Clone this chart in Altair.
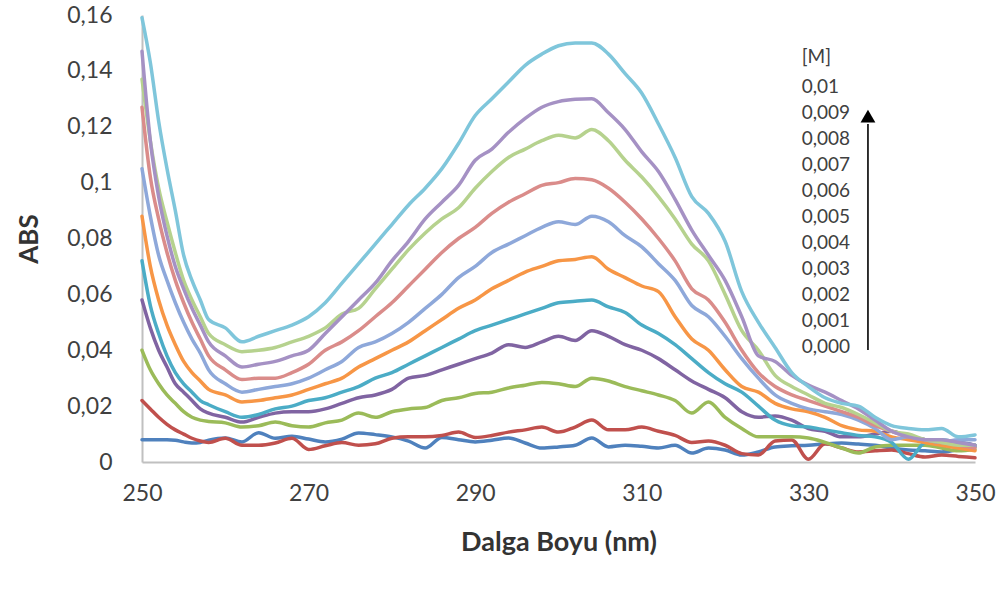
import altair as alt
import pandas as pd

# wavelength grid (nm)
nm = [250, 251, 252, 253, 254, 255, 256, 257, 258,
      260, 262, 264, 266, 268, 270, 272, 274, 276, 278,
      280, 282, 284, 286, 288, 290, 292, 294, 296, 298,
      300, 302, 304, 306, 308, 310, 312, 314, 316, 318,
      320, 322, 324, 326, 328, 330, 332, 334, 336, 338,
      340, 342, 344, 346, 348, 350]

abs_000 = [0.008, 0.008, 0.008, 0.008, 0.0078, 0.0072, 0.0068, 0.007, 0.0078,
           0.0086, 0.0072, 0.0105, 0.0085, 0.0092, 0.0082, 0.0072, 0.0082, 0.0104, 0.0098,
           0.009, 0.0075, 0.005, 0.0088, 0.008, 0.0072, 0.0078, 0.0086, 0.0068, 0.005,
           0.0054, 0.006, 0.0086, 0.0054, 0.006, 0.0056, 0.005, 0.006, 0.0032, 0.005,
           0.0043, 0.0025, 0.0036, 0.0054, 0.0058, 0.006, 0.0065, 0.0068, 0.0064, 0.006,
           0.005, 0.0043, 0.004, 0.0036, 0.0045, 0.0054]
abs_001 = [0.022, 0.019, 0.016, 0.0135, 0.0115, 0.010, 0.0085, 0.0075, 0.007,
           0.0085, 0.006, 0.006, 0.0068, 0.0085, 0.0045, 0.0058, 0.007, 0.006, 0.0065,
           0.0085, 0.009, 0.009, 0.0095, 0.0107, 0.0088, 0.0095, 0.0107, 0.0115, 0.0125,
           0.0107, 0.0125, 0.015, 0.0115, 0.0115, 0.0125, 0.011, 0.0095, 0.007, 0.0075,
           0.006, 0.003, 0.0025, 0.0075, 0.0079, 0.001, 0.0065, 0.005, 0.0036, 0.004,
           0.0043, 0.003, 0.0018, 0.0025, 0.002, 0.0015]
abs_002 = [0.040, 0.033, 0.028, 0.024, 0.021, 0.018, 0.016, 0.015, 0.0145,
           0.014, 0.0125, 0.013, 0.0143, 0.013, 0.0125, 0.014, 0.015, 0.0175, 0.016,
           0.018, 0.019, 0.0195, 0.022, 0.023, 0.0245, 0.025, 0.0265, 0.0275, 0.0285,
           0.028, 0.027, 0.030, 0.029, 0.027, 0.0255, 0.024, 0.022, 0.0175, 0.0215,
           0.016, 0.012, 0.009, 0.009, 0.009, 0.0086, 0.007, 0.005, 0.0032, 0.0054,
           0.006, 0.006, 0.006, 0.005, 0.004, 0.0045]
abs_003 = [0.058, 0.048, 0.040, 0.034, 0.028, 0.025, 0.022, 0.019, 0.0175,
           0.016, 0.0143, 0.016, 0.0175, 0.018, 0.018, 0.019, 0.021, 0.023, 0.024,
           0.026, 0.030, 0.031, 0.033, 0.035, 0.037, 0.039, 0.042, 0.041, 0.043,
           0.045, 0.0435, 0.047, 0.045, 0.042, 0.040, 0.037, 0.033, 0.029, 0.026,
           0.023, 0.018, 0.016, 0.0165, 0.015, 0.012, 0.011, 0.009, 0.009, 0.010,
           0.011, 0.009, 0.008, 0.007, 0.007, 0.006]
abs_004 = [0.072, 0.056, 0.046, 0.038, 0.032, 0.028, 0.025, 0.022, 0.0205,
           0.018, 0.016, 0.017, 0.019, 0.020, 0.022, 0.023, 0.025, 0.027, 0.030,
           0.032, 0.035, 0.038, 0.041, 0.044, 0.047, 0.049, 0.051, 0.053, 0.055,
           0.057, 0.0575, 0.058, 0.0555, 0.0535, 0.049, 0.046, 0.042, 0.037, 0.032,
           0.028, 0.025, 0.020, 0.015, 0.013, 0.0125, 0.0115, 0.0105, 0.0095, 0.009,
           0.007, 0.001, 0.007, 0.008, 0.007, 0.006]
abs_005 = [0.088, 0.070, 0.058, 0.049, 0.042, 0.036, 0.032, 0.029, 0.026,
           0.024, 0.0215, 0.022, 0.023, 0.024, 0.026, 0.028, 0.030, 0.034, 0.037,
           0.040, 0.043, 0.047, 0.051, 0.055, 0.058, 0.062, 0.065, 0.068, 0.070,
           0.072, 0.0725, 0.0735, 0.069, 0.066, 0.063, 0.061, 0.052, 0.044, 0.040,
           0.033, 0.027, 0.025, 0.021, 0.019, 0.018, 0.016, 0.013, 0.0115, 0.011,
           0.009, 0.008, 0.007, 0.006, 0.005, 0.004]
abs_006 = [0.105, 0.088, 0.074, 0.065, 0.057, 0.050, 0.044, 0.039, 0.033,
           0.028, 0.025, 0.026, 0.027, 0.028, 0.030, 0.033, 0.036, 0.041, 0.043,
           0.046, 0.050, 0.055, 0.060, 0.066, 0.070, 0.075, 0.078, 0.081, 0.084,
           0.086, 0.085, 0.088, 0.086, 0.081, 0.077, 0.071, 0.065, 0.056, 0.052,
           0.045, 0.037, 0.030, 0.024, 0.021, 0.019, 0.018, 0.017, 0.015, 0.012,
           0.008, 0.009, 0.008, 0.007, 0.008, 0.008]
abs_007 = [0.127, 0.102, 0.087, 0.075, 0.065, 0.057, 0.050, 0.044, 0.038,
           0.033, 0.0295, 0.030, 0.030, 0.032, 0.035, 0.040, 0.043, 0.047, 0.052,
           0.057, 0.063, 0.069, 0.075, 0.080, 0.084, 0.089, 0.093, 0.096, 0.099,
           0.100, 0.1015, 0.101, 0.098, 0.093, 0.087, 0.080, 0.072, 0.062, 0.058,
           0.050, 0.040, 0.032, 0.027, 0.024, 0.022, 0.020, 0.018, 0.016, 0.013,
           0.011, 0.009, 0.008, 0.007, 0.006, 0.005]
abs_008 = [0.137, 0.115, 0.098, 0.086, 0.075, 0.065, 0.058, 0.052, 0.046,
           0.042, 0.0395, 0.040, 0.041, 0.043, 0.045, 0.048, 0.053, 0.055, 0.062,
           0.069, 0.076, 0.082, 0.087, 0.091, 0.098, 0.104, 0.109, 0.112, 0.115,
           0.117, 0.116, 0.119, 0.115, 0.108, 0.102, 0.095, 0.087, 0.078, 0.072,
           0.060, 0.047, 0.040, 0.031, 0.027, 0.024, 0.021, 0.0195, 0.017, 0.014,
           0.011, 0.010, 0.008, 0.007, 0.006, 0.006]
abs_009 = [0.147, 0.115, 0.095, 0.081, 0.070, 0.062, 0.055, 0.049, 0.043,
           0.038, 0.034, 0.035, 0.036, 0.038, 0.040, 0.046, 0.052, 0.058, 0.064,
           0.072, 0.079, 0.087, 0.093, 0.099, 0.108, 0.112, 0.118, 0.123, 0.127,
           0.129, 0.1298, 0.130, 0.125, 0.119, 0.111, 0.104, 0.094, 0.083, 0.074,
           0.065, 0.052, 0.038, 0.036, 0.031, 0.0275, 0.025, 0.022, 0.019, 0.015,
           0.011, 0.009, 0.008, 0.008, 0.007, 0.006]
abs_010 = [0.159, 0.143, 0.122, 0.105, 0.090, 0.074, 0.065, 0.058, 0.051,
           0.048, 0.043, 0.045, 0.047, 0.049, 0.052, 0.057, 0.064, 0.071, 0.078,
           0.085, 0.092, 0.098, 0.105, 0.114, 0.124, 0.130, 0.136, 0.142, 0.146,
           0.149, 0.150, 0.150, 0.146, 0.139, 0.132, 0.121, 0.109, 0.095, 0.089,
           0.079, 0.061, 0.050, 0.041, 0.032, 0.027, 0.023, 0.021, 0.020, 0.016,
           0.013, 0.012, 0.0115, 0.012, 0.009, 0.0097]

series_names = ["0,000", "0,001", "0,002", "0,003", "0,004", "0,005",
                "0,006", "0,007", "0,008", "0,009", "0,01"]
series_values = [abs_000, abs_001, abs_002, abs_003, abs_004, abs_005,
                 abs_006, abs_007, abs_008, abs_009, abs_010]
series_colors = ["#4F81BD", "#C0504D", "#9BBB59", "#8064A2", "#4BACC6", "#F79646",
                 "#8EA8DA", "#DA8C8A", "#B6D28E", "#A591C4", "#7FC6DB"]

legend_title = "[M]"
legend_labels = ["0,01", "0,009", "0,008", "0,007", "0,006", "0,005",
                 "0,004", "0,003", "0,002", "0,001", "0,000"]

x_ticks = [250, 270, 290, 310, 330, 350]
y_ticks = [0, 0.02, 0.04, 0.06, 0.08, 0.10, 0.12, 0.14, 0.16]

rows = []
for name, vals in zip(series_names, series_values):
    for w, v in zip(nm, vals):
        rows.append({"conc": name, "nm": w, "abs": v})
df = pd.DataFrame(rows)

FONT = "Lato"
TXT = "#404040"

x_enc = alt.X("nm:Q",
              scale=alt.Scale(domain=[250, 350], nice=False, zero=False),
              axis=alt.Axis(values=x_ticks, title="Dalga Boyu (nm)", labelPadding=20,
                            titlePadding=24, labelFontSize=23, titleFontSize=27,
                            labelFlush=False))
y_enc = alt.Y("abs:Q",
              scale=alt.Scale(domain=[0, 0.16], nice=False, zero=True),
              axis=alt.Axis(values=y_ticks, title="ABS", labelPadding=30,
                            titlePadding=24, labelFontSize=23, titleFontSize=26,
                            labelExpr="replace(format(datum.value, '.2~f'), '.', ',')"))

base = alt.Chart(df).encode(x=x_enc, y=y_enc)
layers = []
for name, col in zip(series_names, series_colors):
    layers.append(
        base.transform_filter(alt.datum.conc == name)
        .mark_line(color=col, strokeWidth=3.5, strokeJoin="round", strokeCap="round",
                   interpolate="monotone")
    )

# legend annotation (placed in data coordinates)
leg_x = 329.2
leg_rows = [{"nm": leg_x, "abs": 0.145, "label": legend_title}]
for i, lab in enumerate(legend_labels):
    leg_rows.append({"nm": leg_x, "abs": 0.1342 - i * 0.0093, "label": lab})
leg_df = pd.DataFrame(leg_rows)
legend_text = alt.Chart(leg_df).mark_text(
    align="left", baseline="middle", font=FONT, fontSize=19, color=TXT
).encode(x=x_enc, y=y_enc, text="label:N")

arrow_df = pd.DataFrame([{"nm": 337.15, "abs": 0.0401, "abs2": 0.121}])
arrow_line = alt.Chart(arrow_df).mark_rule(color="black", strokeWidth=1.6).encode(
    x=x_enc, y=y_enc, y2="abs2:Q")
head_df = pd.DataFrame([{"nm": 337.15, "abs": 0.1238}])
arrow_head = alt.Chart(head_df).mark_point(
    shape="triangle-up", filled=True, color="black", size=220, opacity=1
).encode(x=x_enc, y=y_enc)

chart = alt.layer(*layers, legend_text, arrow_line, arrow_head).properties(
    width=833, height=447,
    padding={"left": 142, "top": 15, "right": 33, "bottom": 132},
    autosize=alt.AutoSizeParams(type="none"),
    background="white",
).configure_view(stroke=None).configure_axis(
    grid=False, ticks=False, domainColor="#C0C0C0", domainWidth=2,
    labelFont=FONT, titleFont=FONT, labelColor=TXT, titleColor="#333333",
    titleFontWeight="bold",
)

chart.save("out.html", embed_options={"renderer": "svg", "actions": False})
